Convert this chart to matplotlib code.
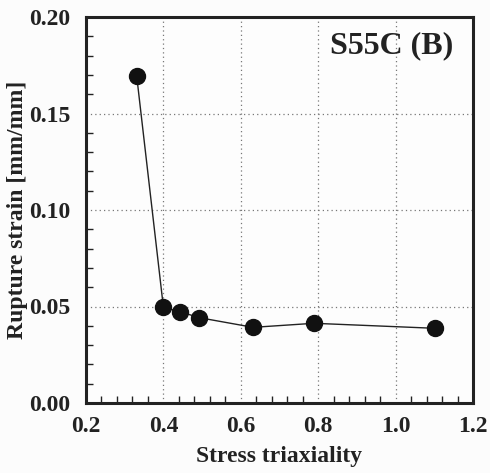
import matplotlib
matplotlib.use("Agg")
import matplotlib.pyplot as plt
from matplotlib.ticker import MultipleLocator

triaxiality = [0.331, 0.400, 0.443, 0.493, 0.632, 0.789, 1.102]
rupture_strain = [0.1694, 0.0496, 0.0473, 0.0442, 0.0392, 0.0413, 0.0387]
x_ticks = [0.2, 0.4, 0.6, 0.8, 1.0, 1.2]
y_ticks = [0.00, 0.05, 0.10, 0.15, 0.20]

plt.rcParams['font.family'] = ['Liberation Serif', 'DejaVu Serif']
plt.rcParams['font.weight'] = 'bold'

fig = plt.figure(figsize=(4.9, 4.73), dpi=100, facecolor='#fcfcfc')
ax = fig.add_axes([86/490, 70/473, 387/490, 386/473])
ax.set_facecolor('#fdfdfd')

ax.plot(triaxiality, rupture_strain, color='#222222', lw=1.0, marker='o',
        markersize=11.5, markerfacecolor='#111111', markeredgecolor='#111111', zorder=3)

ax.set_xlim(0.2, 1.2)
ax.set_ylim(0.0, 0.2)
ax.set_xticks(x_ticks)
ax.set_yticks(y_ticks)
ax.set_xticklabels([f"{v:.1f}" for v in x_ticks])
ax.set_yticklabels([f"{v:.2f}" for v in y_ticks])
ax.xaxis.set_minor_locator(MultipleLocator(0.04))
ax.yaxis.set_minor_locator(MultipleLocator(0.01))

ax.grid(True, which='major', linestyle=(0, (1, 2.5)), color='#777777', lw=0.9)
ax.tick_params(which='both', direction='in', colors='#222222', labelsize=17,
               labelcolor='#222222')
ax.tick_params(which='major', length=0)
ax.tick_params(which='minor', length=5, width=1)
ax.tick_params(axis='y', which='major', pad=11)
ax.tick_params(axis='x', which='major', pad=9)
for s in ax.spines.values():
    s.set_linewidth(2.2)
    s.set_color('#222222')

ax.set_xlabel('Stress triaxiality', fontsize=17, fontweight='bold', color='#222222')
ax.xaxis.set_label_coords(0.5, -0.112)
ax.set_ylabel('Rupture strain [mm/mm]', fontsize=17, fontweight='bold', color='#222222')
ax.yaxis.set_label_coords(-0.15, 0.5)

ax.text(0.95, 0.925, 'S55C (B)', transform=ax.transAxes, ha='right', va='center',
        fontsize=23, fontweight='bold', color='#222222')

fig.savefig('out.png', dpi=100, facecolor=fig.get_facecolor())
